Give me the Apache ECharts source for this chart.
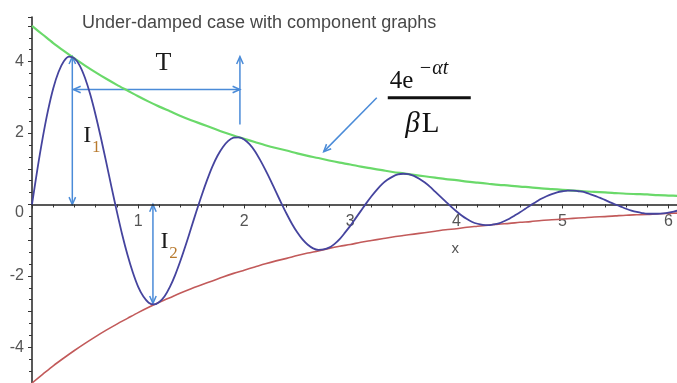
<!DOCTYPE html>
<html>
<head>
<meta charset="utf-8">
<script src="https://cdn.jsdelivr.net/npm/echarts@6/dist/echarts.min.js"></script>
<style>
  html, body { margin: 0; padding: 0; background: #fff; }
  #chart { width: 677px; height: 383px; }
</style>
</head>
<body>
<div id="chart"></div>
<script>
// Sample times for the under-damped response
const responseTimes = [
  0.00, 0.05, 0.10, 0.15, 0.20, 0.25, 0.30, 0.35, 0.40, 0.45,
  0.50, 0.55, 0.60, 0.65, 0.70, 0.75, 0.80, 0.85, 0.90, 0.95,
  1.00, 1.05, 1.10, 1.15, 1.20, 1.25, 1.30, 1.35, 1.40, 1.45,
  1.50, 1.55, 1.60, 1.65, 1.70, 1.75, 1.80, 1.85, 1.90, 1.95,
  2.00, 2.05, 2.10, 2.15, 2.20, 2.25, 2.30, 2.35, 2.40, 2.45,
  2.50, 2.55, 2.60, 2.65, 2.70, 2.75, 2.80, 2.85, 2.90, 2.95,
  3.00, 3.05, 3.10, 3.15, 3.20, 3.25, 3.30, 3.35, 3.40, 3.45,
  3.50, 3.55, 3.60, 3.65, 3.70, 3.75, 3.80, 3.85, 3.90, 3.95,
  4.00, 4.05, 4.10, 4.15, 4.20, 4.25, 4.30, 4.35, 4.40, 4.45,
  4.50, 4.55, 4.60, 4.65, 4.70, 4.75, 4.80, 4.85, 4.90, 4.95,
  5.00, 5.05, 5.10, 5.15, 5.20, 5.25, 5.30, 5.35, 5.40, 5.45,
  5.50, 5.55, 5.60, 5.65, 5.70, 5.75, 5.80, 5.85, 5.90, 5.95,
  6.00, 6.05, 6.10
];

// Under-damped response
const response = [
  0.00, 0.97, 1.85, 2.62, 3.25, 3.71, 4.01, 4.14, 4.09, 3.89,
  3.54, 3.07, 2.50, 1.86, 1.18, 0.48, -0.20, -0.84, -1.41, -1.90,
  -2.30, -2.58, -2.75, -2.80, -2.73, -2.57, -2.31, -1.97, -1.57, -1.13,
  -0.66, -0.19, 0.26, 0.68, 1.06, 1.37, 1.61, 1.78, 1.87, 1.88,
  1.82, 1.69, 1.50, 1.25, 0.97, 0.67, 0.35, 0.04, -0.26, -0.54,
  -0.78, -0.98, -1.13, -1.23, -1.27, -1.26, -1.21, -1.11, -0.97, -0.79,
  -0.60, -0.39, -0.18, 0.03, 0.23, 0.41, 0.57, 0.69, 0.78, 0.84,
  0.86, 0.85, 0.80, 0.72, 0.62, 0.50, 0.36, 0.22, 0.08, -0.06,
  -0.19, -0.31, -0.41, -0.49, -0.54, -0.57, -0.58, -0.56, -0.53, -0.47,
  -0.40, -0.31, -0.22, -0.12, -0.02, 0.07, 0.16, 0.23, 0.29, 0.34,
  0.37, 0.39, 0.39, 0.37, 0.35, 0.30, 0.25, 0.19, 0.13, 0.06,
  0.00, -0.06, -0.12, -0.17, -0.21, -0.24, -0.26, -0.26, -0.26, -0.25,
  -0.23, -0.20, -0.16
];

// Sample times for the two envelope components
const envelopeTimes = [
  0.0, 0.1, 0.2, 0.3, 0.4, 0.5, 0.6, 0.7, 0.8, 0.9,
  1.0, 1.1, 1.2, 1.3, 1.4, 1.5, 1.6, 1.7, 1.8, 1.9,
  2.0, 2.1, 2.2, 2.3, 2.4, 2.5, 2.6, 2.7, 2.8, 2.9,
  3.0, 3.1, 3.2, 3.3, 3.4, 3.5, 3.6, 3.7, 3.8, 3.9,
  4.0, 4.1, 4.2, 4.3, 4.4, 4.5, 4.6, 4.7, 4.8, 4.9,
  5.0, 5.1, 5.2, 5.3, 5.4, 5.5, 5.6, 5.7, 5.8, 5.9,
  6.0, 6.1
];

// Decaying envelope (upper component)
const upperEnvelope = [
  5.00, 4.76, 4.52, 4.30, 4.09, 3.89, 3.70, 3.52, 3.35, 3.19,
  3.03, 2.88, 2.74, 2.61, 2.48, 2.36, 2.25, 2.14, 2.03, 1.93,
  1.84, 1.75, 1.66, 1.58, 1.51, 1.43, 1.36, 1.30, 1.23, 1.17,
  1.12, 1.06, 1.01, 0.96, 0.91, 0.87, 0.83, 0.79, 0.75, 0.71,
  0.68, 0.64, 0.61, 0.58, 0.55, 0.53, 0.50, 0.48, 0.45, 0.43,
  0.41, 0.39, 0.37, 0.35, 0.34, 0.32, 0.30, 0.29, 0.28, 0.26,
  0.25, 0.24
];

// Decaying envelope (lower component)
const lowerEnvelope = [
  -5.00, -4.76, -4.52, -4.30, -4.09, -3.89, -3.70, -3.52, -3.35, -3.19,
  -3.03, -2.88, -2.74, -2.61, -2.48, -2.36, -2.25, -2.14, -2.03, -1.93,
  -1.84, -1.75, -1.66, -1.58, -1.51, -1.43, -1.36, -1.30, -1.23, -1.17,
  -1.12, -1.06, -1.01, -0.96, -0.91, -0.87, -0.83, -0.79, -0.75, -0.71,
  -0.68, -0.64, -0.61, -0.58, -0.55, -0.53, -0.50, -0.48, -0.45, -0.43,
  -0.41, -0.39, -0.37, -0.35, -0.34, -0.32, -0.30, -0.29, -0.28, -0.26,
  -0.25, -0.24
];

// Labelled ticks
const xTickLabels = [1, 2, 3, 4, 5, 6];
const yTickLabels = [-4, -2, 0, 2, 4];

// Annotation arrows, in data coordinates
const periodArrow = [[0.39, 3.22], [1.96, 3.22]];
const periodMarker = [[1.96, 2.24], [1.96, 4.14]];
const firstPeakArrow = [[0.38, 4.14], [0.38, 0.0]];
const secondPeakArrow = [[1.14, 0.0], [1.14, -2.77]];
const envelopePointer = [[3.25, 2.99], [2.75, 1.48]];

// Annotation text anchors, in data coordinates
const periodLabelAt = [1.24, 4.0];
const firstPeakLabelAt = [0.52, 1.99];
const secondPeakLabelAt = [1.25, -0.98];
const formulaAt = [3.74, 2.99];
const xNameAt = [3.99, -1.25];

const pairs = (ts, vals) => ts.map((t, i) => [t, vals[i]]);

const chart = echarts.init(document.getElementById('chart'));
const SANS = '"Liberation Sans", Arial, sans-serif';
const SERIF = '"Liberation Serif", "Times New Roman", serif';

const isNear = (v, list) => list.some(k => Math.abs(v - k) < 1e-6);

chart.setOption({
  animation: false,
  backgroundColor: '#ffffff',
  title: {
    text: 'Under-damped case with component graphs',
    left: 77,
    top: 9,
    textStyle: { fontFamily: SANS, fontSize: 18, fontWeight: 'normal', color: '#484848' }
  },
  grid: { left: 32, right: 0, top: 17, bottom: 0, containLabel: false, outerBoundsMode: 'none' },
  xAxis: {
    type: 'value',
    min: 0,
    max: 6.08,
    interval: 1,
    offset: 0,
    axisLine: { onZero: false, lineStyle: { color: '#222', width: 1.5 } },
    axisTick: { show: true, length: 4, lineStyle: { color: '#333' } },
    minorTick: { show: true, splitNumber: 5, length: 3, lineStyle: { color: '#333' } },
    splitLine: { show: false },
    axisLabel: {
      margin: 9,
      fontFamily: SANS,
      fontSize: 16,
      color: '#555',
      formatter: v => (isNear(v, xTickLabels) ? String(Math.round(v)) : '')
    }
  },
  yAxis: {
    type: 'value',
    min: -5,
    max: 5.25,
    interval: 1,
    axisLine: { onZero: false, lineStyle: { color: '#222', width: 1.5 } },
    axisTick: { show: true, length: 4, lineStyle: { color: '#333' } },
    minorTick: { show: true, splitNumber: 3, length: 3, lineStyle: { color: '#333' } },
    splitLine: { show: false },
    axisLabel: {
      margin: 8,
      fontFamily: SANS,
      fontSize: 16,
      color: '#555',
      // the origin label sits just under the x axis line
      formatter: v => {
        if (!isNear(v, yTickLabels)) return '';
        const s = String(Math.round(v));
        return Math.abs(v) < 1e-6 ? '{origin|' + s + '}' : s;
      },
      rich: {
        origin: { fontFamily: SANS, fontSize: 16, color: '#555', padding: [16, 0, 0, 0] }
      }
    }
  },
  series: [
    {
      name: 'upper',
      type: 'line',
      data: pairs(envelopeTimes, upperEnvelope),
      smooth: 0.3,
      showSymbol: false,
      lineStyle: { color: '#6ad96a', width: 2.2 }
    },
    {
      name: 'lower',
      type: 'line',
      data: pairs(envelopeTimes, lowerEnvelope),
      smooth: 0.3,
      showSymbol: false,
      lineStyle: { color: '#c25a5a', width: 1.6 }
    },
    {
      name: 'response',
      type: 'line',
      data: pairs(responseTimes, response),
      smooth: 0.3,
      showSymbol: false,
      lineStyle: { color: '#45449e', width: 1.8 }
    }
  ]
});

const px = p => chart.convertToPixel({ gridIndex: 0 }, p);

// Lift the x axis from the bottom of the grid up to y = 0
const zeroShift = px([0, -5])[1] - px([0, 0])[1];
chart.setOption({ xAxis: { offset: -zeroShift } });

// Annotations: arrows and math labels placed from data coordinates
const ARROW = '#4a8bd8';

function head(tip, from, len, spread) {
  const a = Math.atan2(from[1] - tip[1], from[0] - tip[0]);
  return [
    [tip[0] + len * Math.cos(a + spread), tip[1] + len * Math.sin(a + spread)],
    tip,
    [tip[0] + len * Math.cos(a - spread), tip[1] + len * Math.sin(a - spread)]
  ];
}

function arrow(seg, both) {
  const a = px(seg[0]);
  const b = px(seg[1]);
  const style = { stroke: ARROW, lineWidth: 1.5, fill: null };
  const items = [
    { type: 'line', shape: { x1: a[0], y1: a[1], x2: b[0], y2: b[1] }, style },
    { type: 'polyline', shape: { points: head(b, a, 8, 0.42) }, style }
  ];
  if (both) items.push({ type: 'polyline', shape: { points: head(a, b, 8, 0.42) }, style });
  return items;
}

function text(at, dx, dy, str, font, color, align) {
  const p = px(at);
  return {
    type: 'text',
    x: p[0] + dx,
    y: p[1] + dy,
    style: { text: str, font, fill: color, align: align || 'center', verticalAlign: 'middle' }
  };
}

const f = px(formulaAt);
const graphics = [].concat(
  arrow(periodArrow, true),
  arrow(periodMarker, false),
  arrow(firstPeakArrow, true),
  arrow(secondPeakArrow, true),
  arrow(envelopePointer, false),
  [
    text(periodLabelAt, 0, 2, 'T', '26px ' + SERIF, '#1a1a1a'),
    text(firstPeakLabelAt, 0, 2, 'I', '24px ' + SERIF, '#1a1a1a'),
    text(firstPeakLabelAt, 9, 14, '1', '17px ' + SERIF, '#b87a2e'),
    text(secondPeakLabelAt, 0, 2, 'I', '24px ' + SERIF, '#1a1a1a'),
    text(secondPeakLabelAt, 9, 14, '2', '17px ' + SERIF, '#b87a2e'),
    text(formulaAt, -39, -16, '4e', '25px ' + SERIF, '#111', 'left'),
    text(formulaAt, -10, -29, '\u2212\u03b1t', 'italic 20px ' + SERIF, '#111', 'left'),
    text(formulaAt, -9, 27, '\u03b2', 'italic 29px ' + SERIF, '#111', 'right'),
    text(formulaAt, -7, 27, 'L', '29px ' + SERIF, '#111', 'left'),
    text(xNameAt, 0, 0, 'x', '15px ' + SANS, '#555'),
    {
      type: 'rect',
      shape: { x: f[0] - 41, y: f[1] - 1.5, width: 83, height: 3 },
      style: { fill: '#111' }
    }
  ]
);

chart.setOption({ graphic: graphics });
</script>
</body>
</html>
